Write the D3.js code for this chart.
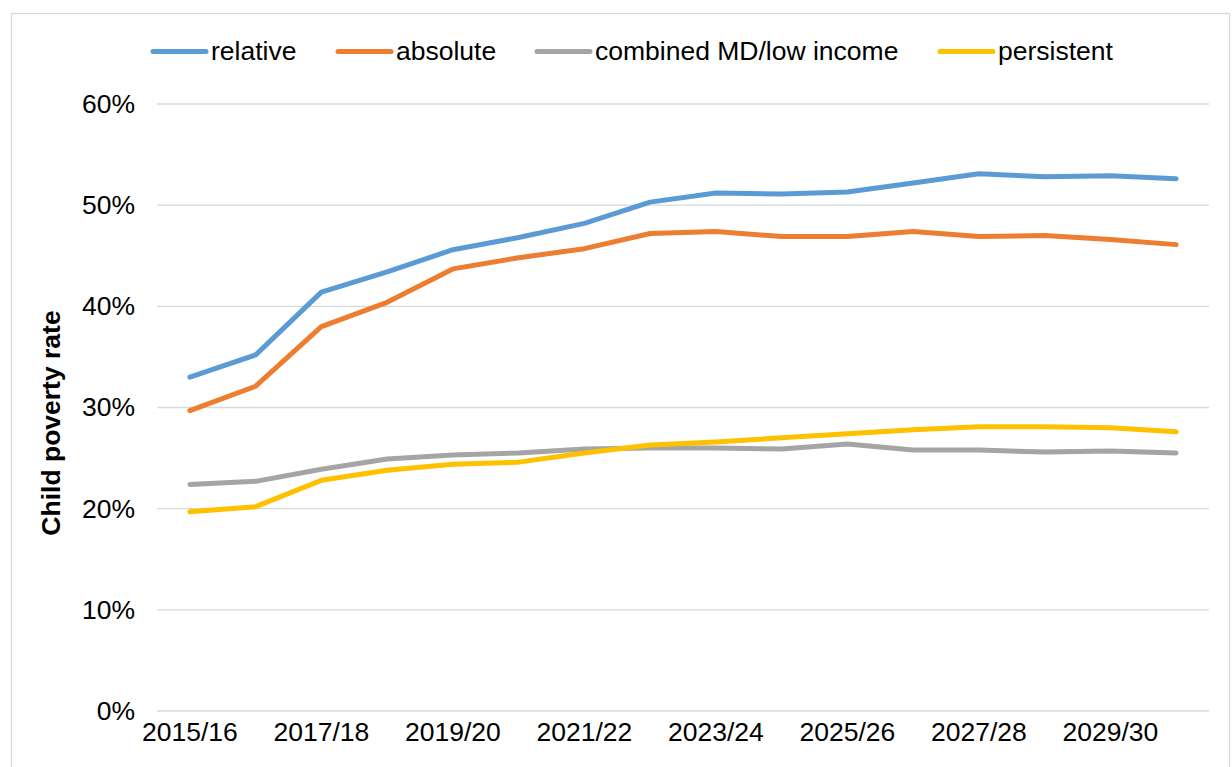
<!DOCTYPE html>
<html>
<head>
<meta charset="utf-8">
<script src="https://cdn.jsdelivr.net/npm/d3@7"></script>
<style>
  html, body { margin: 0; padding: 0; background: #fff; }
  svg { display: block; font-family: "Liberation Sans", Arial, sans-serif; }
</style>
</head>
<body>
<svg id="chart" width="1232" height="767"></svg>
<script>
const categories = ["2015/16","2016/17","2017/18","2018/19","2019/20","2020/21","2021/22","2022/23",
                    "2023/24","2024/25","2025/26","2026/27","2027/28","2028/29","2029/30","2030/31"];
const relative   = [33.0, 35.2, 41.4, 43.4, 45.6, 46.8, 48.2, 50.3, 51.2, 51.1, 51.3, 52.2, 53.1, 52.8, 52.9, 52.6];
const absolute   = [29.7, 32.1, 38.0, 40.4, 43.7, 44.8, 45.7, 47.2, 47.4, 46.9, 46.9, 47.4, 46.9, 47.0, 46.6, 46.1];
const combined   = [22.4, 22.7, 23.9, 24.9, 25.3, 25.5, 25.9, 26.0, 26.0, 25.9, 26.4, 25.8, 25.8, 25.6, 25.7, 25.5];
const persistent = [19.7, 20.2, 22.8, 23.8, 24.4, 24.6, 25.5, 26.3, 26.6, 27.0, 27.4, 27.8, 28.1, 28.1, 28.0, 27.6];
const seriesNames  = ["relative", "absolute", "combined MD/low income", "persistent"];
const seriesColors = ["#5B9BD5", "#ED7D31", "#A5A5A5", "#FFC000"];
const yTicks = [0, 10, 20, 30, 40, 50, 60];
const xTickLabels = ["2015/16","2017/18","2019/20","2021/22","2023/24","2025/26","2027/28","2029/30"];
const yTitle = "Child poverty rate";

const seriesData = [relative, absolute, combined, persistent];
const svg = d3.select("#chart");
const FS = 26.5;

// outer frame
svg.append("rect").attr("x", 11.5).attr("y", 13.5).attr("width", 1218).attr("height", 780)
  .attr("fill", "none").attr("stroke", "#d9d9d9").attr("stroke-width", 1.3);

const x = d3.scaleBand().domain(categories).range([157, 1209]);
const y = d3.scaleLinear().domain([0, 60]).range([711, 104]);

// gridlines
svg.append("g").selectAll("line").data(yTicks).join("line")
  .attr("x1", 157).attr("x2", 1209)
  .attr("y1", d => y(d)).attr("y2", d => y(d))
  .attr("stroke", "#d9d9d9").attr("stroke-width", 1.4);

// y axis labels
const yAxis = d3.axisLeft(y).tickValues(yTicks).tickFormat(d => d + "%").tickSize(0).tickPadding(0);
const gy = svg.append("g").attr("transform", "translate(135,0)").call(yAxis);
gy.select(".domain").remove();
gy.selectAll("text").attr("font-size", FS).attr("fill", "#000").attr("font-family", "Liberation Sans, Arial, sans-serif");

// x axis labels
const xAxis = d3.axisBottom(x).tickValues(xTickLabels).tickSize(0).tickPadding(0);
const gx = svg.append("g").attr("transform", "translate(0,722)").call(xAxis);
gx.select(".domain").remove();
gx.selectAll("text").attr("font-size", FS).attr("fill", "#000").attr("font-family", "Liberation Sans, Arial, sans-serif");

// y title
svg.append("text")
  .attr("transform", "translate(60,423) rotate(-90)")
  .attr("text-anchor", "middle")
  .attr("font-size", FS).attr("font-weight", "bold").attr("fill", "#000")
  .text(yTitle);

// lines
const line = d3.line().x((d, i) => x(categories[i]) + x.bandwidth() / 2).y(d => y(d));
seriesData.forEach((s, k) => {
  svg.append("path").datum(s)
    .attr("d", line)
    .attr("fill", "none")
    .attr("stroke", seriesColors[k])
    .attr("stroke-width", 5)
    .attr("stroke-linejoin", "round")
    .attr("stroke-linecap", "round");
});

// legend
const legendX = [153, 338, 537, 940];
const lg = svg.append("g");
seriesNames.forEach((name, k) => {
  lg.append("line").attr("x1", legendX[k]).attr("x2", legendX[k] + 53)
    .attr("y1", 51.5).attr("y2", 51.5)
    .attr("stroke", seriesColors[k]).attr("stroke-width", 5).attr("stroke-linecap", "round");
  lg.append("text").attr("x", legendX[k] + 58).attr("y", 60)
    .attr("font-size", FS).attr("fill", "#000").text(name);
});
</script>
</body>
</html>
